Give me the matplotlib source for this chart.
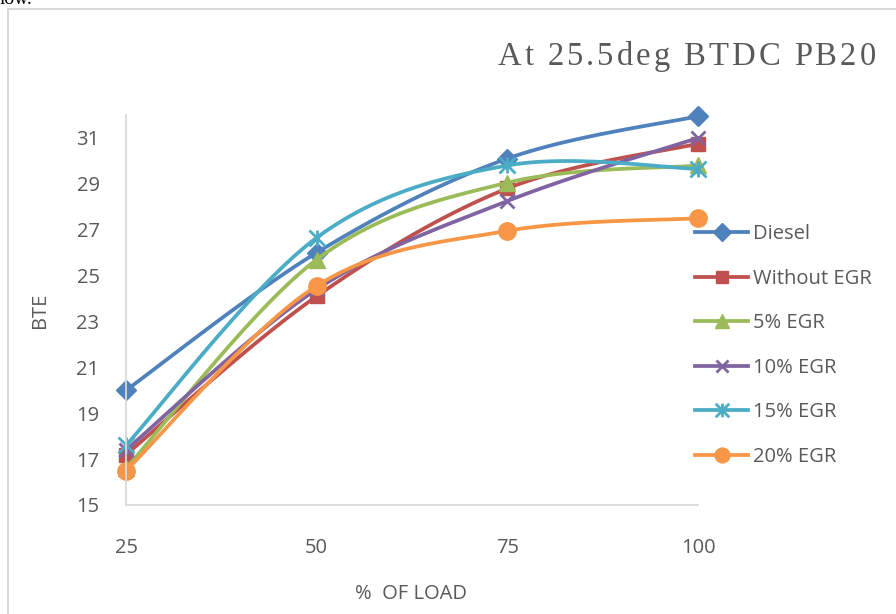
import numpy as np
import matplotlib.pyplot as plt
from matplotlib.path import Path
from matplotlib.lines import Line2D
from matplotlib.patches import Rectangle

# data
load = [25, 50, 75, 100]
diesel = [20.0, 26.0, 30.1, 31.95]
without_egr = [17.2, 24.1, 28.8, 30.75]
egr5 = [16.6, 25.7, 29.05, 29.8]
egr10 = [17.4, 24.4, 28.25, 31.0]
egr15 = [17.6, 26.65, 29.8, 29.65]
egr20 = [16.5, 24.55, 26.95, 27.5]

names = ["Diesel", "Without EGR", "5% EGR", "10% EGR", "15% EGR", "20% EGR"]
colors = ["#4F81BD", "#C0504D", "#9BBB59", "#8064A2", "#4BACC6", "#F79646"]

# excel style "star": vertical bar plus an x
star = Path([(0, -1), (0, 1), (-1, -1), (1, 1), (-1, 1), (1, -1)],
            [Path.MOVETO, Path.LINETO, Path.MOVETO, Path.LINETO, Path.MOVETO, Path.LINETO])
markers = ["D", "s", "^", "x", star, "o"]
msizes = [10.5, 10.5, 11.5, 10.5, 11.5, 12.5]

FONT = "Open Sans"
GREY = "#595959"


def smooth(x, y, n=40):
    # bezier smoothing like excel's "smoothed line"
    x = np.asarray(x, float)
    y = np.asarray(y, float)
    px = np.concatenate([[x[0]], x, [x[-1]]])
    py = np.concatenate([[y[0]], y, [y[-1]]])
    t = np.linspace(0, 1, n)
    xs, ys = [], []
    for i in range(1, len(x)):
        p0 = np.array([px[i - 1], py[i - 1]])
        p1 = np.array([px[i], py[i]])
        p2 = np.array([px[i + 1], py[i + 1]])
        p3 = np.array([px[i + 2], py[i + 2]])
        c1 = p1 + (p2 - p0) / 6
        c2 = p2 - (p3 - p1) / 6
        pts = ((1 - t) ** 3)[:, None] * p1 + (3 * (1 - t) ** 2 * t)[:, None] * c1 \
            + (3 * (1 - t) * t ** 2)[:, None] * c2 + (t ** 3)[:, None] * p2
        xs.append(pts[:, 0])
        ys.append(pts[:, 1])
    return np.concatenate(xs), np.concatenate(ys)


fig = plt.figure(figsize=(8.96, 6.14), dpi=100)
ax = fig.add_axes([126 / 896, 1 - 505 / 614, (698 - 126) / 896, (505 - 115) / 614])

series = [diesel, without_egr, egr5, egr10, egr15, egr20]
handles = []
for vals, name, c, m, ms in zip(series, names, colors, markers, msizes):
    sx, sy = smooth(load, vals)
    ax.plot(sx, sy, color=c, lw=2.7, solid_capstyle="round", clip_on=False)
    mew = 2.0 if m in ("x",) or m is star else 1
    ax.plot(load, vals, ls="none", marker=m, ms=ms, color=c, mec=c, mew=mew, clip_on=False)
    handles.append(Line2D([], [], color=c, lw=2.7, marker=m, ms=ms * 0.85, mec=c, mew=mew))

ax.set_xlim(25, 100)
ax.set_ylim(15, 32)
ax.set_xticks(load)
ax.set_yticks(np.arange(15, 32, 2))
for s in ["top", "right"]:
    ax.spines[s].set_visible(False)
for s in ["left", "bottom"]:
    ax.spines[s].set_color("#d9d9d9")
    ax.spines[s].set_linewidth(1.3)
ax.tick_params(length=0, labelsize=14.5, labelcolor=GREY)
ax.tick_params(axis="x", pad=24)
ax.tick_params(axis="y", pad=19)
for lab in ax.get_xticklabels() + ax.get_yticklabels():
    lab.set_fontfamily(FONT)

fig.text(411 / 896, 1 - 594 / 614, "%  OF LOAD", fontsize=14.5, color=GREY, family=FONT,
         ha="center", va="center")
fig.text(40 / 896, 1 - 310 / 614, "BTE", fontsize=14.5, color=GREY, family=FONT,
         ha="center", va="center", rotation=90)

leg = ax.legend(handles, names, loc="upper left", bbox_to_anchor=(695 / 896, 1 - 224 / 614),
                bbox_transform=fig.transFigure, frameon=False, prop={"family": FONT, "size": 14.5},
                handlelength=2.65, handletextpad=0.25, labelspacing=1.22, borderaxespad=0,
                borderpad=0)
for t in leg.get_texts():
    t.set_color(GREY)

# title with wide letter spacing
fig.canvas.draw()
r = fig.canvas.get_renderer()
title = "At 25.5deg BTDC PB20"
xpos = 498 / 896
for ch in title:
    t = fig.text(xpos, 1 - 57 / 614, ch, family="Liberation Serif", fontsize=23.5,
                 color=GREY, va="center", ha="left")
    w = t.get_window_extent(r).width if ch != " " else 7.5
    xpos += (w + 3.1) / 896

# chart frame
fig.patches.append(Rectangle((8 / 896, -0.1), 1.2, 1 - 9 / 614 + 0.1, transform=fig.transFigure,
                             fill=False, ec="#d9d9d9", lw=1.5))
fig.text(0.0, 1.0, "low.", family="Liberation Serif", fontsize=14, va="center", ha="left")

fig.savefig("out.png", dpi=100)
